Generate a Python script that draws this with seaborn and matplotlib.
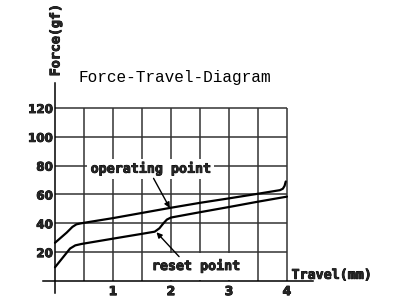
import matplotlib
matplotlib.use("Agg")
import matplotlib.pyplot as plt
import matplotlib.patheffects as pe
import numpy as np
import pandas as pd
import seaborn as sns

# ---- data ----
op_travel = [0, 0.1, 0.2, 0.3, 0.37, 0.45, 0.6, 1.0, 1.5, 2.0, 2.5, 3.0, 3.5, 3.88, 3.93, 3.96, 3.98]
op_force = [26.5, 30, 33.5, 37.5, 39.3, 40, 41, 43.6, 47.2, 50.8, 54.2, 57.3, 60.5, 63.0, 64.0, 66, 69]
rs_travel = [0, 0.1, 0.2, 0.26, 0.35, 0.46, 0.8, 1.2, 1.5, 1.72, 1.8, 1.87, 1.93, 2.0, 2.5, 3.0, 3.5, 4.0]
rs_force = [9.5, 14.5, 19.5, 22.5, 24.7, 25.7, 28, 30.7, 32.7, 34.2, 36.5, 40, 42.6, 44, 47.7, 51.3, 55, 58.5]

x_ticks = [1, 2, 3, 4]
x_tick_labels = ["1", "2", "3", "4"]
x_grid = [0.5, 1.0, 1.5, 2.0, 2.5, 3.0, 3.5, 4.0]
y_ticks = [20, 40, 60, 80, 100, 120]
y_tick_labels = ["20", "40", "60", "80", "100", "120"]

title = "Force-Travel-Diagram"
y_label = "Force(gf)"
x_label = "Travel(mm)"
op_label = "operating point"
rs_label = "reset point"

sns.set_theme(style="white")
plt.rcParams["font.family"] = ["DejaVu Sans Mono", "DejaVu Sans"]

heavy = [pe.withStroke(linewidth=0.6, foreground="black")]

fig = plt.figure(figsize=(4, 3), dpi=100)
ax = fig.add_axes([0.1085, 0.025, 0.674, 0.6967])
ax.set_xlim(-0.2, 4.45)
ax.set_ylim(-8, 137)

grid_c = "#333333"
ax.vlines(x_grid, 0, max(y_ticks), colors=grid_c, lw=1.1, zorder=1)
ax.hlines(y_ticks, 0, max(x_grid), colors=grid_c, lw=1.1, zorder=1)

op_df = pd.DataFrame({"travel": op_travel, "force": op_force})
rs_df = pd.DataFrame({"travel": rs_travel, "force": rs_force})
sns.lineplot(data=op_df, x="travel", y="force", color="black", lw=1.6,
             estimator=None, sort=False, ax=ax, zorder=3)
sns.lineplot(data=rs_df, x="travel", y="force", color="black", lw=1.6,
             estimator=None, sort=False, ax=ax, zorder=3)

for s in ["top", "right"]:
    ax.spines[s].set_visible(False)
for s in ["left", "bottom"]:
    ax.spines[s].set_position(("data", 0))
    ax.spines[s].set_color("black")
    ax.spines[s].set_linewidth(1.1)
    ax.spines[s].set_zorder(6)

ax.set_xticks(x_ticks)
ax.set_xticklabels(x_tick_labels, fontweight="bold", fontsize=9, family="DejaVu Sans")
ax.set_yticks(y_ticks)
ax.set_yticklabels(y_tick_labels, fontweight="bold", fontsize=8.6, family="DejaVu Sans")
for lab in ax.get_xticklabels() + ax.get_yticklabels():
    lab.set_path_effects(heavy)
ax.tick_params(axis="x", length=0, pad=3)
ax.tick_params(axis="y", length=0, pad=1.5)
ax.set_xlabel("")
ax.set_ylabel("")

ax.text(2.07, 137.8, title, family="Liberation Mono", fontsize=11.6,
        ha="center", va="baseline", color="black")
ax.text(0.017, 167, y_label, rotation=90, ha="center", va="center",
        fontweight="bold", fontsize=9.6, path_effects=heavy)
ax.text(4.08, 1.5, x_label, ha="left", va="baseline", fontweight="bold", fontsize=9.6,
        path_effects=heavy)

ax.text(1.65, 75.1, op_label, ha="center", va="baseline", fontweight="bold", fontsize=9.6,
        path_effects=heavy,
        bbox=dict(facecolor="white", edgecolor="none", boxstyle="square,pad=0.25"), zorder=4)
ax.text(2.43, 7.6, rs_label, ha="center", va="baseline", fontweight="bold", fontsize=9.6,
        path_effects=heavy,
        bbox=dict(facecolor="white", edgecolor="none", boxstyle="square,pad=0.5"), zorder=4)

arrow = dict(arrowstyle="-|>", color="black", lw=1.0, mutation_scale=8, shrinkA=0, shrinkB=0)
ax.annotate("", xy=(1.98, 50.6), xytext=(1.70, 71.2), arrowprops=arrow, zorder=7)
ax.annotate("", xy=(1.75, 33.8), xytext=(2.14, 16.9), arrowprops=arrow, zorder=7)

fig.savefig("out.png", dpi=100, facecolor="white")
